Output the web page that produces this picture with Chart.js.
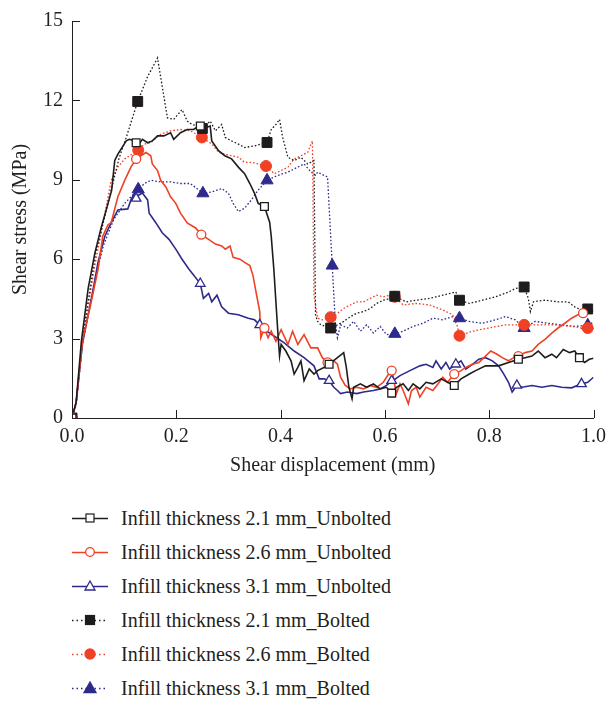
<!DOCTYPE html>
<html>
<head>
<meta charset="utf-8">
<script src="https://cdn.jsdelivr.net/npm/chart.js@4.4.1/dist/chart.umd.min.js"></script>
<style>
  body { margin: 0; background: #fff; }
  #wrap { position: relative; width: 613px; height: 701px; }
  #chart { position: absolute; left: 0; top: 0; }
  #legend { position: absolute; left: 72px; top: 501px; font-family: "Liberation Serif", serif; font-size: 20px; color: #231f20; }
  .row { height: 34px; display: flex; align-items: center; }
  .row svg { margin-right: 13px; }
</style>
</head>
<body>
<div id="wrap">
  <canvas id="chart" width="613" height="480"></canvas>
  <div id="legend"></div>
</div>
<script>
// axis ticks
var xTicks = [0, 0.2, 0.4, 0.6, 0.8, 1.0];
var yTicks = [0, 3, 6, 9, 12, 15];

var seriesNames = ["Infill thickness 2.1 mm_Unbolted", "Infill thickness 2.6 mm_Unbolted", "Infill thickness 3.1 mm_Unbolted",
                   "Infill thickness 2.1 mm_Bolted", "Infill thickness 2.6 mm_Bolted", "Infill thickness 3.1 mm_Bolted"];
var seriesColors = ["#1f1c1d", "#ef4126", "#2e2a8c", "#1f1c1d", "#ef4126", "#2e2a8c"];

// shear displacement (mm), shear stress (MPa)
var unbolted21 = [[0,0],[0.008,0.6],[0.018,2.9],[0.031,4.9],[0.044,6.25],[0.056,7.2],[0.069,8.1],[0.076,8.6],[0.082,9.73],[0.088,9.97],[0.104,10.47],
  [0.110,10.53],[0.120,10.47],[0.126,10.28],[0.135,10.53],[0.145,10.4],[0.154,10.47],[0.164,10.66],[0.176,10.66],[0.189,10.78],[0.195,10.53],
  [0.208,10.78],[0.221,10.9],[0.233,10.9],[0.243,11.03],[0.252,10.94],[0.265,11.03],[0.268,10.47],[0.281,10.1],[0.293,9.91],[0.306,9.79],
  [0.319,9.48],[0.331,9.23],[0.341,8.86],[0.350,8.49],[0.357,8.11],[0.369,7.99],[0.379,7.4],[0.382,6.87],[0.387,5.63],[0.391,4.39],[0.395,3.15],
  [0.398,2.34],[0.401,2.78],[0.410,2.53],[0.420,2.16],[0.426,1.66],[0.433,1.91],[0.439,2.16],[0.445,1.41],[0.455,1.85],[0.464,1.66],[0.471,1.79],
  [0.483,1.91],[0.493,2.03],[0.509,2.28],[0.521,2.47],[0.526,1.91],[0.531,1.16],[0.537,0.73],[0.540,1.16],[0.553,1.29],[0.565,1.16],[0.578,1.29],
  [0.591,1.10],[0.603,1.16],[0.613,0.94],[0.622,1.16],[0.635,1.29],[0.645,1.04],[0.654,1.29],[0.667,1.1],[0.679,1.35],[0.692,1.29],[0.708,1.48],
  [0.720,1.35],[0.733,1.23],[0.746,1.48],[0.762,1.66],[0.774,1.79],[0.793,1.97],[0.806,1.97],[0.818,1.97],[0.837,2.10],[0.856,2.22],[0.869,2.28],
  [0.882,2.34],[0.894,2.53],[0.907,2.28],[0.920,2.41],[0.929,2.28],[0.942,2.59],[0.954,2.47],[0.964,2.53],[0.973,2.28],[0.983,2.10],[0.992,2.22],[1.0,2.26]];

var unbolted26 = [[0,0],[0.008,0.6],[0.02,2.9],[0.037,4.4],[0.05,5.63],[0.059,6.87],[0.069,7.3],[0.075,7.37],[0.088,8.36],[0.101,8.98],[0.113,9.48],
  [0.123,9.79],[0.132,9.91],[0.142,10.03],[0.151,9.91],[0.154,9.6],[0.164,9.35],[0.170,8.98],[0.180,8.73],[0.189,8.36],[0.199,8.11],[0.208,7.74],
  [0.221,7.37],[0.237,7.18],[0.248,6.93],[0.262,6.75],[0.275,6.57],[0.287,6.5],[0.294,6.38],[0.303,6.5],[0.309,6.07],[0.322,6.0],[0.331,5.88],
  [0.341,5.76],[0.347,5.39],[0.354,4.64],[0.360,4.02],[0.362,3.03],[0.369,3.40],[0.376,3.03],[0.382,3.28],[0.391,2.9],[0.401,3.34],[0.414,2.78],
  [0.423,3.28],[0.433,2.78],[0.445,3.15],[0.458,2.65],[0.471,2.65],[0.480,2.28],[0.490,2.10],[0.502,2.16],[0.509,2.03],[0.515,1.54],[0.524,1.23],
  [0.534,1.10],[0.546,1.16],[0.559,1.1],[0.572,1.23],[0.584,1.16],[0.597,1.35],[0.607,1.66],[0.613,1.79],[0.616,1.54],[0.622,0.92],[0.629,1.29],
  [0.635,1.04],[0.645,0.54],[0.651,1.04],[0.660,1.16],[0.667,0.79],[0.679,1.16],[0.692,1.04],[0.702,1.29],[0.711,1.54],[0.720,1.35],[0.733,1.66],
  [0.746,1.79],[0.755,1.91],[0.768,2.03],[0.780,2.10],[0.793,2.34],[0.803,2.53],[0.815,2.41],[0.825,2.28],[0.837,2.16],[0.847,2.28],[0.856,2.34],
  [0.869,2.47],[0.882,2.53],[0.894,2.78],[0.907,2.97],[0.920,3.21],[0.932,3.40],[0.945,3.58],[0.958,3.77],[0.970,3.90],[0.980,3.96],[0.989,4.02],[1.0,4.05]];

var unbolted31 = [[0,0],[0.008,0.6],[0.02,2.8],[0.04,4.8],[0.05,5.9],[0.063,6.87],[0.075,7.37],[0.088,7.86],[0.107,7.9],[0.113,8.24],[0.120,8.5],
  [0.126,8.4],[0.135,8.5],[0.145,8.24],[0.148,7.74],[0.161,7.37],[0.173,7.0],[0.186,6.75],[0.199,6.38],[0.211,6.0],[0.224,5.63],[0.246,5.08],
  [0.252,4.52],[0.262,4.71],[0.268,4.39],[0.278,4.64],[0.287,4.2],[0.300,3.96],[0.319,3.90],[0.338,3.77],[0.350,3.71],[0.360,3.52],[0.369,3.34],
  [0.388,3.09],[0.407,2.84],[0.426,2.53],[0.445,2.28],[0.464,1.97],[0.474,1.48],[0.483,1.48],[0.493,1.41],[0.502,1.16],[0.509,1.04],[0.515,0.92],
  [0.528,0.98],[0.546,0.92],[0.559,0.98],[0.578,1.04],[0.591,1.1],[0.603,1.23],[0.613,1.38],[0.629,1.60],[0.648,1.79],[0.667,1.97],[0.679,2.03],
  [0.692,1.91],[0.698,2.16],[0.708,1.85],[0.717,2.10],[0.724,1.85],[0.736,2.03],[0.746,2.16],[0.755,1.85],[0.768,2.03],[0.780,2.22],[0.793,2.28],
  [0.806,2.16],[0.818,1.97],[0.828,1.66],[0.837,1.35],[0.844,0.98],[0.853,1.23],[0.863,1.16],[0.882,1.23],[0.901,1.16],[0.920,1.23],[0.939,1.16],
  [0.958,1.14],[0.977,1.29],[0.989,1.35],[1.0,1.54]];

var bolted21 = [[0,0],[0.008,0.6],[0.02,3.0],[0.045,6.2],[0.07,8.2],[0.09,9.8],[0.104,10.6],[0.126,11.96],[0.145,12.9],[0.164,13.6],[0.183,11.34],
  [0.195,11.28],[0.211,11.65],[0.221,11.22],[0.230,11.09],[0.243,11.03],[0.250,10.94],[0.265,11.22],[0.275,10.85],[0.287,11.09],[0.294,10.6],
  [0.306,10.47],[0.319,10.35],[0.331,10.22],[0.350,10.28],[0.363,10.35],[0.374,10.41],[0.382,10.9],[0.391,11.09],[0.398,11.28],[0.404,10.6],
  [0.414,9.85],[0.426,9.73],[0.439,9.85],[0.452,9.6],[0.464,9.73],[0.467,3.9],[0.471,3.65],[0.477,3.52],[0.486,3.46],[0.496,3.40],[0.509,3.52],
  [0.521,3.65],[0.534,3.83],[0.546,3.96],[0.559,4.02],[0.572,4.14],[0.584,4.33],[0.597,4.45],[0.610,4.52],[0.619,4.60],[0.641,4.39],[0.660,4.45],
  [0.686,4.52],[0.711,4.64],[0.736,4.76],[0.743,4.45],[0.762,4.33],[0.787,4.45],[0.812,4.58],[0.837,4.76],[0.850,4.89],[0.867,4.95],[0.875,4.52],
  [0.879,4.02],[0.885,4.39],[0.907,4.45],[0.932,4.39],[0.951,4.39],[0.964,4.2],[0.977,4.08],[0.989,4.12],[1.0,4.08]];

var bolted26 = [[0,0],[0.008,0.6],[0.02,2.9],[0.045,5.9],[0.06,7.4],[0.075,8.98],[0.088,9.48],[0.101,9.79],[0.127,10.12],[0.139,10.35],[0.151,10.41],
  [0.170,10.72],[0.189,10.85],[0.208,10.9],[0.227,10.85],[0.249,10.6],[0.268,10.35],[0.281,10.04],[0.293,9.97],[0.306,9.91],[0.319,9.85],
  [0.331,9.66],[0.344,9.66],[0.357,9.6],[0.372,9.52],[0.388,9.23],[0.401,9.35],[0.414,9.48],[0.426,9.79],[0.439,9.91],[0.452,10.04],[0.461,10.47],
  [0.464,4.6],[0.467,4.27],[0.471,3.77],[0.480,3.71],[0.496,3.81],[0.509,3.96],[0.521,4.14],[0.534,4.27],[0.546,4.39],[0.559,4.39],[0.572,4.52],
  [0.584,4.64],[0.597,4.58],[0.610,4.64],[0.619,4.58],[0.635,4.27],[0.660,4.33],[0.686,4.27],[0.711,4.08],[0.730,3.90],[0.739,3.46],[0.743,3.11],
  [0.768,3.28],[0.799,3.40],[0.831,3.52],[0.867,3.52],[0.894,3.52],[0.926,3.52],[0.958,3.46],[0.977,3.40],[0.989,3.40],[1.0,3.46]];

var bolted31 = [[0,0],[0.008,0.5],[0.02,2.8],[0.045,5.3],[0.06,6.5],[0.08,7.5],[0.101,8.11],[0.127,8.64],[0.139,8.86],[0.151,8.98],[0.170,8.92],
  [0.189,8.92],[0.208,8.86],[0.227,8.86],[0.251,8.49],[0.268,8.54],[0.287,8.67],[0.300,8.49],[0.309,8.11],[0.319,7.8],[0.331,7.93],[0.344,8.24],
  [0.357,8.61],[0.374,8.98],[0.395,9.17],[0.414,9.29],[0.433,9.48],[0.445,9.6],[0.458,9.3],[0.467,9.17],[0.471,9.29],[0.483,9.17],[0.490,9.11],
  [0.499,5.76],[0.505,3.6],[0.509,3.03],[0.515,3.52],[0.528,3.40],[0.540,3.65],[0.553,3.28],[0.565,3.52],[0.578,3.21],[0.591,3.46],[0.603,3.15],
  [0.619,3.18],[0.635,3.28],[0.654,3.46],[0.673,3.58],[0.692,3.77],[0.711,3.71],[0.730,3.83],[0.743,3.77],[0.762,3.65],[0.787,3.58],[0.812,3.71],
  [0.831,3.83],[0.850,3.71],[0.867,3.40],[0.888,3.65],[0.913,3.58],[0.939,3.52],[0.964,3.46],[0.989,3.50],[1.0,3.62]];

// marker positions on each curve
var unbolted21Marks = [[0,0],[0.123,10.4],[0.246,11.03],[0.369,7.99],[0.493,2.03],[0.613,0.94],[0.733,1.23],[0.856,2.22],[0.973,2.28]];
var unbolted26Marks = [[0,0],[0.123,9.79],[0.248,6.93],[0.369,3.40],[0.490,2.10],[0.613,1.79],[0.733,1.66],[0.856,2.34],[0.980,3.96]];
var unbolted31Marks = [[0,0],[0.123,8.3],[0.246,5.08],[0.360,3.52],[0.493,1.41],[0.613,1.41],[0.736,2.03],[0.853,1.23],[0.977,1.29]];
var bolted21Marks = [[0,0],[0.126,11.96],[0.250,10.94],[0.374,10.41],[0.496,3.40],[0.619,4.60],[0.743,4.45],[0.867,4.95],[0.989,4.12]];
var bolted26Marks = [[0,0],[0.127,10.12],[0.249,10.6],[0.372,9.52],[0.496,3.81],[0.619,4.58],[0.743,3.11],[0.867,3.52],[0.989,3.40]];
var bolted31Marks = [[0,0],[0.127,8.64],[0.251,8.49],[0.374,8.98],[0.499,5.76],[0.619,3.18],[0.743,3.77],[0.867,3.40],[0.989,3.50]];

var allLines = [unbolted21, unbolted26, unbolted31, bolted21, bolted26, bolted31];
var allMarks = [unbolted21Marks, unbolted26Marks, unbolted31Marks, bolted21Marks, bolted26Marks, bolted31Marks];
var markStyles = ["rect", "circle", "triangle", "rect", "circle", "triangle"];
var markSizes = [5.5, 4.5, 5.5, 7, 5.5, 7];

function toXY(arr) {
  return arr.map(function (p) { return {x: p[0], y: p[1]}; });
}

var datasets = [];
for (var i = 0; i < 6; i++) {
  var bolted = i >= 3;
  datasets.push({
    label: seriesNames[i],
    data: toXY(allLines[i]),
    borderColor: seriesColors[i],
    borderWidth: bolted ? 1.3 : 1.6,
    borderDash: bolted ? [1.6, 2] : [],
    pointRadius: 0,
    tension: 0,
    fill: false,
    order: 2
  });
}
for (var i = 0; i < 6; i++) {
  var bolted = i >= 3;
  datasets.push({
    label: seriesNames[i] + " marks",
    data: toXY(allMarks[i]),
    showLine: false,
    pointStyle: markStyles[i],
    pointRadius: markSizes[i],
    pointBorderWidth: bolted ? 1 : 1.3,
    pointBorderColor: seriesColors[i],
    pointBackgroundColor: bolted ? seriesColors[i] : "#ffffff",
    order: 1
  });
}

// ticks pointing into the plot
var inwardTicks = {
  id: "inwardTicks",
  afterDraw: function (chart) {
    var ctx = chart.ctx, a = chart.chartArea;
    var xs = chart.scales.x, ys = chart.scales.y;
    ctx.save();
    ctx.strokeStyle = "#231f20";
    ctx.lineWidth = 1;
    ctx.beginPath();
    xTicks.forEach(function (v) {
      var px = Math.round(xs.getPixelForValue(v)) + 0.5;
      ctx.moveTo(px, a.bottom);
      ctx.lineTo(px, a.bottom - 8);
    });
    yTicks.forEach(function (v) {
      var py = Math.round(ys.getPixelForValue(v)) + 0.5;
      ctx.moveTo(a.left, py);
      ctx.lineTo(a.left + 8, py);
    });
    ctx.stroke();
    ctx.restore();
  }
};

var font = "'Liberation Serif', serif";

new Chart(document.getElementById("chart"), {
  type: "line",
  data: {datasets: datasets},
  options: {
    responsive: false,
    animation: false,
    layout: {padding: {left: 0, right: 13, top: 15, bottom: 0}},
    plugins: {legend: {display: false}, tooltip: {enabled: false}},
    scales: {
      x: {
        type: "linear", min: 0, max: 1,
        afterBuildTicks: function (s) { s.ticks = xTicks.map(function (v) { return {value: v}; }); },
        afterFit: function (s) { s.height = 62; },
        grid: {display: true, drawOnChartArea: false, drawTicks: false},
        border: {display: true, color: "#231f20", width: 1},
        ticks: {padding: 7, color: "#231f20", font: {family: font, size: 20},
                callback: function (v) { return v.toFixed(1); }},
        title: {display: true, text: "Shear displacement (mm)", color: "#231f20",
                font: {family: font, size: 20}, padding: {top: 0, bottom: 2}}
      },
      y: {
        type: "linear", min: 0, max: 15,
        afterBuildTicks: function (s) { s.ticks = yTicks.map(function (v) { return {value: v}; }); },
        afterFit: function (s) { s.width = 72; },
        grid: {display: true, drawOnChartArea: false, drawTicks: false},
        border: {display: true, color: "#231f20", width: 1},
        ticks: {padding: 9, color: "#231f20", font: {family: font, size: 20}},
        title: {display: true, text: "Shear stress (MPa)", color: "#231f20",
                font: {family: font, size: 20}, padding: {top: 9, bottom: 0}}
      }
    }
  },
  plugins: [inwardTicks]
});

// legend: short line with the marker in its middle
var legend = document.getElementById("legend");
for (var i = 0; i < 6; i++) {
  var c = seriesColors[i], bolted = i >= 3;
  var dash = bolted ? ' stroke-dasharray="1.5 3"' : '';
  var mark;
  if (markStyles[i] === "rect") {
    var s = bolted ? 9 : 8;
    mark = '<rect x="' + (18 - s / 2) + '" y="' + (9 - s / 2) + '" width="' + s + '" height="' + s + '" fill="' + (bolted ? c : "#fff") + '" stroke="' + c + '" stroke-width="1.2"/>';
  } else if (markStyles[i] === "circle") {
    mark = '<circle cx="18" cy="9" r="' + (bolted ? 5 : 4.3) + '" fill="' + (bolted ? c : "#fff") + '" stroke="' + c + '" stroke-width="1.3"/>';
  } else {
    mark = '<polygon points="18,' + (bolted ? 3 : 4) + ' ' + (bolted ? 24 : 23) + ',' + (bolted ? 13.5 : 13) + ' ' + (bolted ? 12 : 13) + ',' + (bolted ? 13.5 : 13) + '" fill="' + (bolted ? c : "#fff") + '" stroke="' + c + '" stroke-width="1.3"/>';
  }
  var svg = '<svg width="36" height="18"><line x1="0" y1="9.5" x2="36" y2="9.5" stroke="' + c + '" stroke-width="1.4"' + dash + '/>' + mark + '</svg>';
  var row = document.createElement("div");
  row.className = "row";
  row.innerHTML = svg + '<span>' + seriesNames[i] + '</span>';
  legend.appendChild(row);
}
</script>
</body>
</html>
